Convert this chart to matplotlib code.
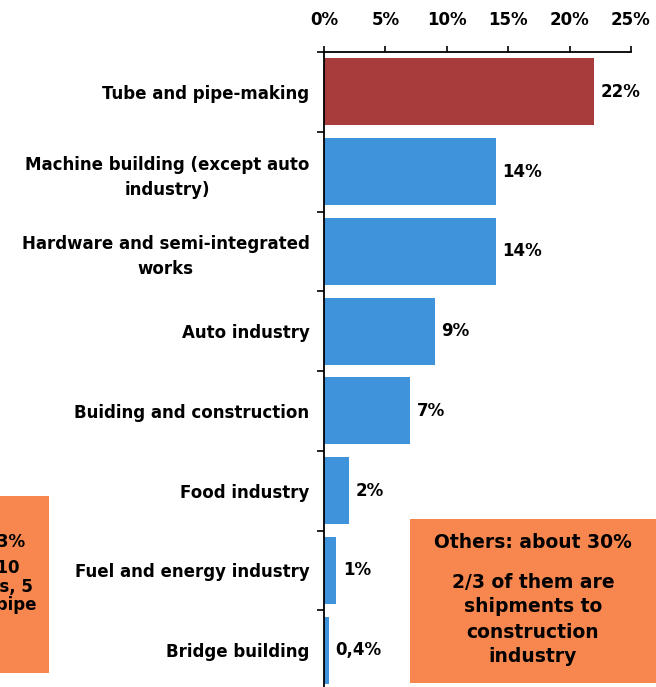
import matplotlib
matplotlib.use("Agg")
import matplotlib.pyplot as plt
from matplotlib.patches import Rectangle
from matplotlib.ticker import FixedLocator, PercentFormatter

plt.rcParams["font.family"] = ["DejaVu Sans"]
plt.rcParams["font.weight"] = "bold"

# Consumption structure by end-use sector, % of shipments
categories = [
    "Tube and pipe-making",
    "Machine building (except auto\nindustry)",
    "Hardware and semi-integrated\nworks",
    "Auto industry",
    "Buiding and construction",
    "Food industry",
    "Fuel and energy industry",
    "Bridge building",
]
shares = [22, 14, 14, 9, 7, 2, 1, 0.4]
highlight = "Tube and pipe-making"
x_ticks = [0, 5, 10, 15, 20, 25]

others_lines = ["Others: about 30%", "2/3 of them are", "shipments to",
                "construction", "industry"]
side_lines = ["Top 10 customers: 23%", "of all shipments; 10", "of them are works, 5",
              "are tube and pipe"]

RED = "#A83B3C"
BLUE = "#3E93DA"
ORANGE = "#F8874F"

W, H = 656, 687
fig = plt.figure(figsize=(W / 100, H / 100), dpi=100)
ax = fig.add_axes([324 / W, (H - 690) / H, (631 - 324) / W, (690 - 52) / H])

ypos = list(range(len(categories)))
colors = [RED if c == highlight else BLUE for c in categories]
ax.barh(ypos, shares, height=0.84, color=colors, zorder=2)

for y, v in zip(ypos, shares):
    ax.text(v + 0.55, y, f"{v:g}%".replace(".", ","), va="center", ha="left",
            fontsize=12, fontweight="bold")

ax.set_xlim(0, 25)
ax.set_ylim(len(categories) - 0.5, -0.5)

ax.xaxis.tick_top()
ax.xaxis.set_major_locator(FixedLocator(x_ticks))
ax.xaxis.set_major_formatter(PercentFormatter(decimals=0))
ax.tick_params(axis="x", direction="out", length=4.5, width=1.2, pad=12,
               labelsize=12)
for lbl in ax.get_xticklabels():
    lbl.set_fontweight("bold")

ax.set_yticks(ypos)
ax.set_yticklabels(categories, multialignment="center", fontsize=12,
                   fontweight="bold", linespacing=1.5)
ax.tick_params(axis="y", which="major", length=0, pad=10.5)
ax.set_yticks([p - 0.5 for p in ypos], minor=True)
ax.tick_params(axis="y", which="minor", direction="out", length=5, width=1.2)

for side in ("right", "bottom"):
    ax.spines[side].set_visible(False)
for side in ("left", "top"):
    ax.spines[side].set_linewidth(1.3)


def px_box(x0, y0, x1, y1):
    return Rectangle((x0 / W, 1 - y1 / H), (x1 - x0) / W, (y1 - y0) / H,
                     transform=fig.transFigure, facecolor=ORANGE,
                     edgecolor="none", zorder=5)


# "Others" note on the right
fig.patches.append(px_box(410, 519, 700, 683))
for txt, yc in zip(others_lines, [542, 582, 607, 632, 657]):
    fig.text(533 / W, 1 - yc / H, txt, ha="center", va="center",
             fontsize=13.5, fontweight="bold", zorder=6)

# Note on the left edge
fig.patches.append(px_box(-200, 496, 49, 673))
side_x = [25, 20, 33, 36]
side_y = [542, 568, 587, 605]
for txt, xr, yc in zip(side_lines, side_x, side_y):
    fig.text(xr / W, 1 - yc / H, txt, ha="right", va="center",
             fontsize=12, fontweight="bold", zorder=6)

fig.savefig("out.png", dpi=100)
